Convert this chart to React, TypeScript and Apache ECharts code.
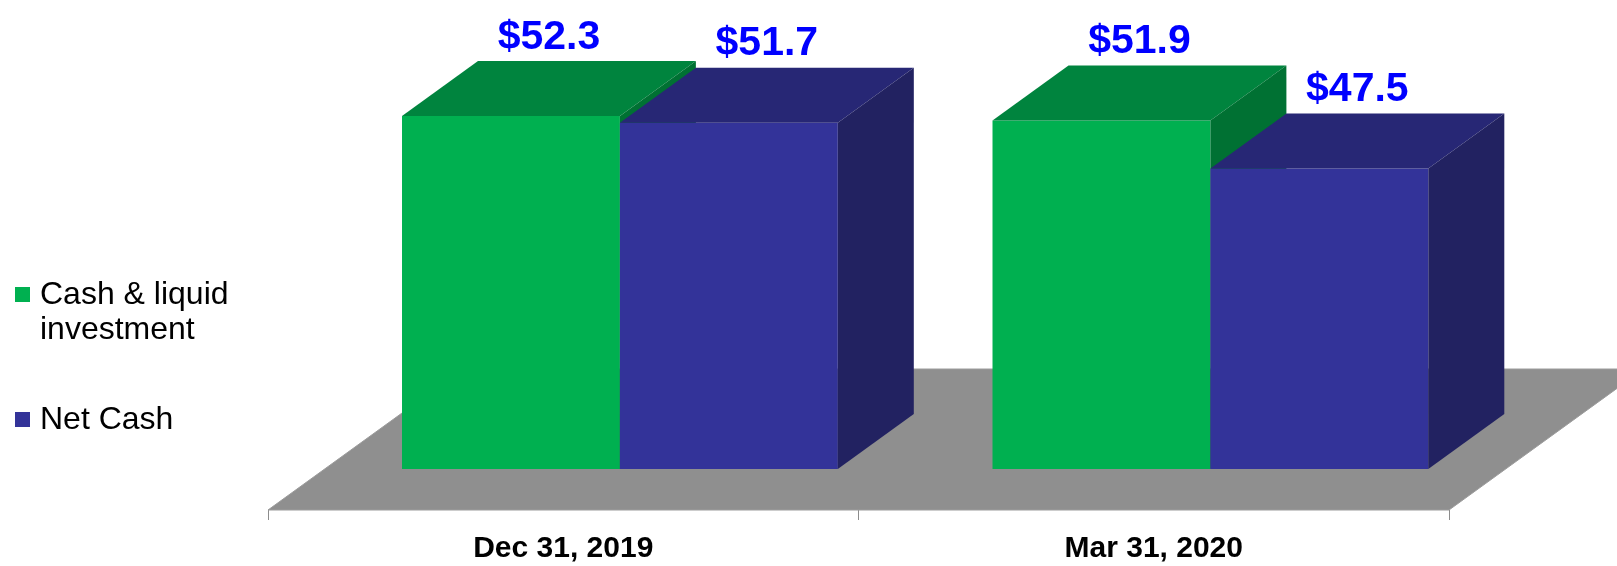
import React, { useEffect, useRef } from "react";
import * as echarts from "echarts";

const categories = ["Dec 31, 2019", "Mar 31, 2020"];
const seriesNames = ["Cash & liquid investment", "Net Cash"];
const legendLabels = ["Cash & liquid\ninvestment", "Net Cash"];
const cashLiquid = [52.3, 51.9];
const netCash = [51.7, 47.5];
const Y_MIN = 20;
const Y_MAX = 60;

const palettes = [
  { front: "#00B050", top: "#00843E", side: "#007133" },
  { front: "#333399", top: "#272775", side: "#222261" },
];

const DEPTH_RATIO = 76 / 55;
const FLOOR_DY = 141;
const FRONT_DY = 41;
const BAR_DY = 55;
const BAR_FRAC = 0.369;
const FONT = "'Liberation Sans', Arial, sans-serif";

function makeBarRender(s: number) {
  return (params: any, api: any) => {
    const idx = api.value(0);
    const v = api.value(1);
    const [cx, ty] = api.coord([idx, v]);
    const by = api.coord([idx, Y_MIN])[1];
    const cw = api.size([1, 0])[0];
    const bw = cw * BAR_FRAC;
    const ox = FRONT_DY * DEPTH_RATIO;
    const x0 = cx + ox - (s === 0 ? bw : 0);
    const x1 = x0 + bw;
    const yTop = ty - FRONT_DY;
    const yBot = by - FRONT_DY;
    const ddx = BAR_DY * DEPTH_RATIO;
    const ddy = BAR_DY;
    const p = palettes[s];
    return {
      type: "group",
      children: [
        {
          type: "rect",
          shape: { x: x0, y: yTop, width: bw, height: yBot - yTop },
          style: { fill: p.front },
        },
        {
          type: "polygon",
          shape: {
            points: [
              [x0, yTop],
              [x1, yTop],
              [x1 + ddx, yTop - ddy],
              [x0 + ddx, yTop - ddy],
            ],
          },
          style: { fill: p.top },
        },
        {
          type: "polygon",
          shape: {
            points: [
              [x1, yTop],
              [x1 + ddx, yTop - ddy],
              [x1 + ddx, yBot - ddy],
              [x1, yBot],
            ],
          },
          style: { fill: p.side },
        },
        {
          type: "text",
          x: x0 + bw / 2 + ddx / 2,
          y: yTop - ddy - 6,
          style: {
            text: "$" + Number(v).toFixed(1),
            fill: "#0000FF",
            font: `bold 41px ${FONT}`,
            align: "center",
            verticalAlign: "bottom",
            textAlign: "center",
            textVerticalAlign: "bottom",
          },
        },
      ],
    };
  };
}

function floorRender(params: any) {
  const cs = params.coordSys;
  const fy = cs.y + cs.height;
  const x0 = cs.x;
  const x1 = cs.x + cs.width;
  const dx = FLOOR_DY * DEPTH_RATIO;
  return {
    type: "polygon",
    shape: {
      points: [
        [x0, fy],
        [x1, fy],
        [x1 + dx, fy - FLOOR_DY],
        [x0 + dx, fy - FLOOR_DY],
      ],
    },
    style: { fill: "#8F8F8F", stroke: "#9C9C9C", lineWidth: 1 },
  };
}

export default function App() {
  const ref = useRef<HTMLDivElement>(null);
  useEffect(() => {
    document.body.style.margin = "0";
    const chart = echarts.init(ref.current!, null, { renderer: "svg" });
    const legendTops = [275, 400];
    const graphic: any[] = [];
    seriesNames.forEach((name, i) => {
      graphic.push({
        type: "rect",
        left: 15,
        top: legendTops[i] + 12,
        shape: { width: 15, height: 15 },
        style: { fill: palettes[i].front },
      });
      graphic.push({
        type: "text",
        x: 40,
        y: legendTops[i],
        style: {
          text: legendLabels[i],
          fill: "#000000",
          font: `32px ${FONT}`,
          lineHeight: 35,
          textVerticalAlign: "top",
          verticalAlign: "top",
        },
      });
    });
    chart.setOption({
      animation: false,
      grid: { left: 268, right: 168, top: 73, bottom: 56 },
      xAxis: {
        type: "category",
        data: categories,
        axisLine: { show: false },
        axisTick: { show: true, length: 10, lineStyle: { color: "#8C8C8C", width: 1 } },
        axisLabel: {
          margin: 22,
          color: "#000000",
          fontSize: 30,
          lineHeight: 28,
          fontWeight: "bold",
          fontFamily: FONT,
        },
        splitLine: { show: false },
      },
      yAxis: {
        type: "value",
        min: Y_MIN,
        max: Y_MAX,
        show: false,
        splitLine: { show: false },
      },
      graphic,
      series: [
        {
          type: "custom",
          name: "floor",
          z: 1,
          renderItem: floorRender,
          data: [[0, Y_MIN]],
          encode: { x: 0, y: 1 },
          silent: true,
        },
        {
          type: "custom",
          name: seriesNames[0],
          z: 2,
          renderItem: makeBarRender(0),
          data: cashLiquid.map((v, i) => [i, v]),
          encode: { x: 0, y: 1 },
        },
        {
          type: "custom",
          name: seriesNames[1],
          z: 3,
          renderItem: makeBarRender(1),
          data: netCash.map((v, i) => [i, v]),
          encode: { x: 0, y: 1 },
        },
      ],
    });
    return () => chart.dispose();
  }, []);
  return (
    <div
      ref={ref}
      style={{ position: "fixed", left: 0, top: 0, width: 1617, height: 566 }}
    />
  );
}
